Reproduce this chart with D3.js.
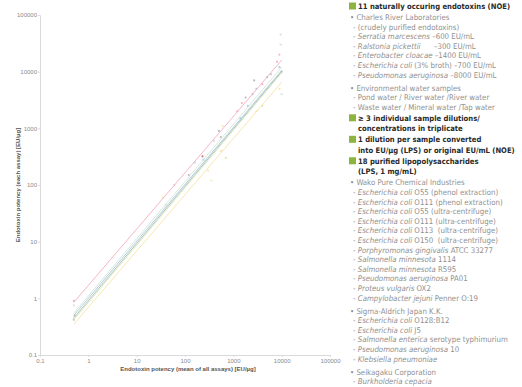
<!DOCTYPE html>
<html>
<head>
<meta charset="utf-8">
<script src="https://cdn.jsdelivr.net/npm/d3@7"></script>
<style>
  body { margin: 0; background: #fff; }
  svg { display: block; }
  svg text { white-space: pre; }
</style>
</head>
<body>
<main></main>
<script>
// axis ticks (both axes share the same log decades)
const tickValues = [0.1, 1, 10, 100, 1000, 10000, 100000];
const tickLabels = ['0.1', '1', '10', '100', '1000', '10000', '100000'];

// regression lines: value at x = 0.5 and at x = 10000
const fitNames = ['pink', 'lightgray', 'teal', 'gray', 'green', 'yellow'];
const fitX = [0.5, 10000];
const fitStart = [0.85, 0.55, 0.5, 0.45, 0.42, 0.35];
const fitEnd = [16000, 12000, 10500, 10000, 9500, 6500];

// individual assay points
const pointX = [0.5, 0.5, 0.5, 0.52, 35, 40, 60, 120, 160, 230, 240, 300, 350, 400, 500, 550, 600, 560, 700,
  1200, 1500, 1400, 1800, 2000, 2500, 2700, 3000, 4000, 5000, 6000, 8000, 9000, 9500, 9500, 9000, 10000, 9000, 10000, 3000, 4000];
const pointY = [0.9, 0.42, 0.75, 0.5, 60, 45, 100, 150, 250, 320, 280, 180, 120, 600, 900, 700, 1100, 400, 300,
  2000, 2800, 1500, 3500, 2500, 4000, 7000, 5000, 6000, 8000, 9000, 15000, 20000, 30000, 45000, 12000, 10000, 5000, 4000, 2000, 2500];
const pointSeries = ['pink', 'gray', 'lightgray', 'gray', 'yellow', 'green', 'lightgray', 'gray', 'blue', 'brown', 'teal', 'yellow', 'yellow', 'lightgray', 'gray', 'gray', 'yellow', 'yellow', 'green',
  'pink', 'pink', 'teal', 'gray', 'teal', 'pink', 'gray', 'teal', 'pink', 'gray', 'teal', 'pink', 'pink', 'lightgray', 'lightgray', 'teal', 'gray', 'yellow', 'lightgray', 'yellow', 'green'];

const colors = {
  pink: '#f3aebe',
  lightgray: '#dcdfdf',
  teal: '#9ad0d7',
  gray: '#b4b6b6',
  green: '#d3e8b8',
  yellow: '#f6e3a6',
  blue: '#b9dcee',
  brown: '#b8707a',
};

// legend text: [kind, italic part, plain part]
const legendRows = [
  ['head', '', '11 naturally occuring endotoxins (NOE)'],
  ['bullet', '', 'Charles River Laboratories'],
  ['item', '', '(crudely purified endotoxins)'],
  ['item', 'Serratia marcescens', ' \u2013600 EU/mL'],
  ['item', 'Ralstonia pickettii', '      \u2013300 EU/mL'],
  ['item', 'Enterobacter cloacae', ' \u20131400 EU/mL'],
  ['item', 'Escherichia coli', ' (3% broth) \u2013700 EU/mL'],
  ['item', 'Pseudomonas aeruginosa', ' \u20138000 EU/mL'],
  ['bullet', '', 'Environmental water samples'],
  ['item', '', 'Pond water / River water /River water'],
  ['item', '', 'Waste water / Mineral water /Tap water'],
  ['head', '', '\u2265 3 individual sample dilutions/'],
  ['cont', '', 'concentrations in triplicate'],
  ['head', '', '1 dilution per sample converted'],
  ['cont', '', 'into EU/\u00b5g (LPS) or original EU/mL (NOE)'],
  ['head', '', '18 purified lipopolysaccharides'],
  ['cont', '', '(LPS, 1 mg/mL)'],
  ['bullet', '', 'Wako Pure Chemical Industries'],
  ['item', 'Escherichia coli', ' O55 (phenol extraction)'],
  ['item', 'Escherichia coli', ' O111 (phenol extraction)'],
  ['item', 'Escherichia coli', ' O55 (ultra-centrifuge)'],
  ['item', 'Escherichia coli', ' O111 (ultra-centrifuge)'],
  ['item', 'Escherichia coli', ' O113  (ultra-centrifuge)'],
  ['item', 'Escherichia coli', ' O150  (ultra-centrifuge)'],
  ['item', 'Porphyromonas gingivalis', ' ATCC 33277'],
  ['item', 'Salmonella minnesota', ' 1114'],
  ['item', 'Salmonella minnesota', ' R595'],
  ['item', 'Pseudomonas aeruginosa', ' PA01'],
  ['item', 'Proteus vulgaris', ' OX2'],
  ['item', 'Campylobacter jejuni', ' Penner O:19'],
  ['bullet', '', 'Sigma-Aldrich Japan K.K.'],
  ['item', 'Escherichia coli', ' O128:B12'],
  ['item', 'Escherichia coli', ' J5'],
  ['item', 'Salmonella enterica', ' serotype typhimurium'],
  ['item', 'Pseudomonas aeruginosa', ' 10'],
  ['item', 'Klebsiella pneumoniae', ''],
  ['bullet', '', 'Seikagaku Corporation'],
  ['item', 'Burkholderia cepacia', ''],
];

const width = 522;
const height = 387;
const plot = { left: 40, right: 330, top: 15, bottom: 355 };

const x = d3.scaleLog().domain([0.1, 100000]).range([plot.left, plot.right]);
const y = d3.scaleLog().domain([0.1, 100000]).range([plot.bottom, plot.top]);

const svg = d3.select('main')
  .append('svg')
  .attr('width', width)
  .attr('height', height)
  .attr('viewBox', [0, 0, width, height]);

// axes
const axisFont = "'Liberation Sans', Arial, sans-serif";

const xAxis = svg.append('g')
  .attr('transform', `translate(0 ${plot.bottom})`)
  .call(d3.axisBottom(x).tickValues(tickValues).tickFormat((d, i) => tickLabels[i]).tickSize(2).tickPadding(2));

const yAxis = svg.append('g')
  .attr('transform', `translate(${plot.left} 0)`)
  .call(d3.axisLeft(y).tickValues(tickValues).tickFormat((d, i) => tickLabels[i]).tickSize(2).tickPadding(1));

[xAxis, yAxis].forEach(g => {
  g.select('.domain').attr('stroke', '#dadada');
  g.selectAll('.tick line').attr('stroke', '#dadada');
  g.selectAll('.tick text')
    .attr('fill', '#8a8a8a')
    .attr('font-size', 6)
    .attr('font-family', axisFont);
});

svg.append('text')
  .attr('x', (plot.left + plot.right) / 2 + 3)
  .attr('y', 371)
  .attr('text-anchor', 'middle')
  .attr('font-family', axisFont)
  .attr('font-weight', 'bold')
  .attr('font-size', 6)
  .attr('fill', '#555')
  .text('Endotoxin potency (mean of all assays) [EU/\u00b5g]');

svg.append('text')
  .attr('transform', `translate(20 ${(plot.top + plot.bottom) / 2}) rotate(-90)`)
  .attr('text-anchor', 'middle')
  .attr('font-family', axisFont)
  .attr('font-weight', 'bold')
  .attr('font-size', 6)
  .attr('fill', '#555')
  .text('Endotoxin potency (each assay) [EU/\u00b5g]');

// points
const points = pointX.map((px, i) => ({ x: px, y: pointY[i], s: pointSeries[i] }));

svg.append('g')
  .selectAll('circle')
  .data(points)
  .join('circle')
  .attr('cx', d => x(d.x))
  .attr('cy', d => y(d.y))
  .attr('r', 1.1)
  .attr('fill', d => colors[d.s])
  .attr('opacity', 0.9);

// regression lines
const line = d3.line().x(d => x(d[0])).y(d => y(d[1]));
const fits = fitNames.map((name, i) => ({ name, pts: [[fitX[0], fitStart[i]], [fitX[1], fitEnd[i]]] }));

svg.append('g')
  .selectAll('path')
  .data(fits)
  .join('path')
  .attr('d', d => line(d.pts))
  .attr('fill', 'none')
  .attr('stroke', d => colors[d.name])
  .attr('stroke-width', 0.9);

// legend
const legendFont = "'DejaVu Sans Condensed', 'DejaVu Sans', sans-serif";
const lx = 349;
const legend = svg.append('g')
  .attr('font-family', legendFont);
let ly = 7;
legendRows.forEach(([kind, ital, plain], i) => {
  if (i > 0) {
    const prev = legendRows[i - 1][0];
    if (kind === 'bullet') ly += (prev === 'item' ? 13 : 11);
    else if (kind === 'head') ly += 11;
    else if (kind === 'cont') ly += 10.5;
    else ly += 9.6;
  }
  if (kind === 'head' || kind === 'cont') {
    if (kind === 'head') {
      legend.append('rect')
        .attr('x', lx).attr('y', ly - 4.5)
        .attr('width', 7).attr('height', 7)
        .attr('fill', '#8db43e');
    }
    legend.append('text')
      .attr('x', lx + 9).attr('y', ly)
      .attr('dominant-baseline', 'middle')
      .attr('font-weight', 'bold')
      .attr('font-size', 7.6)
      .attr('fill', '#2a2a2a')
      .text(plain);
  } else {
    const t = legend.append('text')
      .attr('x', kind === 'bullet' ? lx + 1 : lx + 4)
      .attr('y', ly)
      .attr('dominant-baseline', 'middle')
      .attr('font-size', 7.8)
      .attr('fill', '#8f8f8f');
    t.append('tspan').text(kind === 'bullet' ? '\u2022 ' : '- ');
    if (ital) t.append('tspan').attr('font-style', 'italic').text(ital);
    t.append('tspan').text(plain);
  }
});
</script>
</body>
</html>
